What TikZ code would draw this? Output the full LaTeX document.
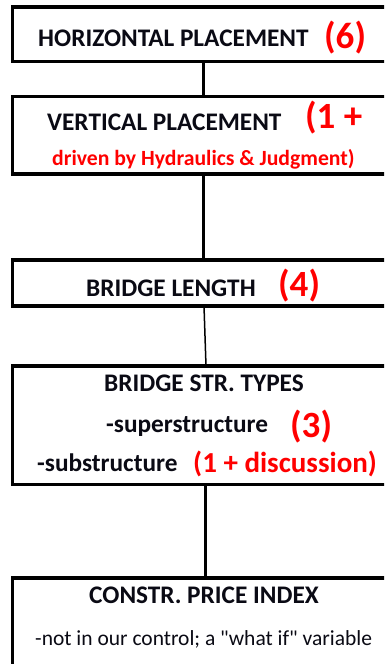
\documentclass[tikz,border=0pt]{standalone}
\usepackage{fontspec}
\setmainfont{Carlito}
\newfontfamily\plaincarlito{Carlito}[Ligatures=TeXOff]
\definecolor{hred}{RGB}{255,0,0}
\definecolor{hblk}{RGB}{10,10,20}
\begin{document}
\begin{tikzpicture}[x=1pt,y=-1pt,
  box/.style={draw=black, line width=3.2pt, inner sep=0pt, outer sep=0pt, minimum width=381pt, anchor=north west},
  conn/.style={draw=black, line width=3pt},
  thinconn/.style={draw=black, line width=1.5pt},
  blk/.style={anchor=base west, inner sep=0pt, text=hblk, font=\fontsize{25.3}{29}\selectfont\bfseries},
  reg/.style={anchor=base west, inner sep=0pt, text=hblk, font=\plaincarlito\fontsize{21.5}{25}\selectfont},
  redbig/.style={anchor=base west, inner sep=0pt, text=hred, font=\fontsize{37}{41}\selectfont\bfseries},
  redmid/.style={anchor=base west, inner sep=0pt, text=hred, font=\fontsize{29}{33}\selectfont\bfseries},
  redsmall/.style={anchor=base west, inner sep=0pt, text=hred, font=\fontsize{21.7}{25}\selectfont\bfseries}]
\useasboundingbox (0,0) rectangle (384,664);
\clip (0,0) rectangle (384,664);
\fill[white] (0,0) rectangle (384,664);
% boxes
\node[box, minimum height=54.5pt] (b1) at (12.5,7) {};
\node[box, minimum height=77.5pt] (b2) at (12.5,96.5) {};
\node[box, minimum height=46pt] (b3) at (12.5,260) {};
\node[box, minimum height=118.5pt] (b4) at (12.5,366) {};
\node[box, minimum height=112pt] (b5) at (12.5,578) {};
% connectors
\draw[conn] (b1) -- (b2);
\draw[conn] (b2) -- (b3);
\draw[thinconn] ([xshift=1pt]b3.south) -- ([xshift=3pt]b4.north);
\draw[conn] ([xshift=2pt]b4.south) -- ([xshift=2pt]b5.north);
% texts
\node[blk] (t1) at (38,46.5) {HORIZONTAL PLACEMENT};
\node[redbig] (r1) at (324,48.5) {(6)};
\node[blk] (t2) at (47,130) {VERTICAL PLACEMENT};
\node[redbig] (r2) at (305,128.5) {(1 +};
\node[redsmall] (r2b) at (52,165.5) {driven by Hydraulics \& Judgment)};
\node[blk] (t3) at (86,296) {BRIDGE LENGTH};
\node[redbig] (r3) at (278,296.5) {(4)};
\node[blk] (t4) at (104,391) {BRIDGE STR. TYPES};
\node[blk] (t4b) at (106,432.5) {-superstructure};
\node[redbig] (r4) at (290,437) {(3)};
\node[blk] (t4c) at (37,471.5) {-substructure};
\node[redmid] (r4b) at (193,472.5) {(1 + discussion)};
\node[blk] (t5) at (89,603) {CONSTR. PRICE INDEX};
\node[reg] (t5b) at (35,645) {-not in our control; a "what if" variable};
\end{tikzpicture}
\end{document}
